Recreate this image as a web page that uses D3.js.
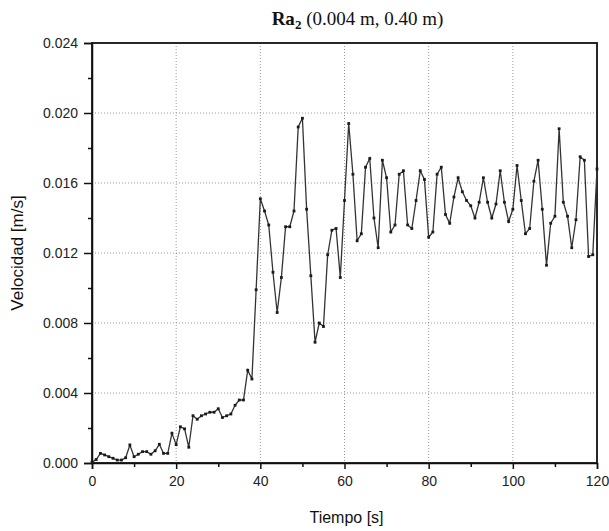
<!DOCTYPE html>
<html>
<head>
<meta charset="utf-8">
<script src="https://cdn.jsdelivr.net/npm/d3@7"></script>
<style>
  body { margin: 0; background: #fff; }
  svg { display: block; }
</style>
</head>
<body>
<div id="chart"></div>
<script>
// velocity readings, one per second (0..120 s)
var tiempo = d3.range(0, 121);
var velocidad = [
  0.00005, 0.0002, 0.00055, 0.00046, 0.00036, 0.00027, 0.00017, 0.00017, 0.0003, 0.00103,
  0.00036, 0.0005, 0.00065, 0.00065, 0.0005, 0.0007, 0.00107, 0.00055, 0.00055, 0.0017,
  0.00105, 0.00207, 0.00195, 0.0009, 0.0027, 0.0025, 0.0027, 0.0028, 0.0029, 0.0029,
  0.0031, 0.0026, 0.0027, 0.0028, 0.0033, 0.0036, 0.0036, 0.0053, 0.0048, 0.0099,
  0.0151, 0.0144, 0.0136, 0.0109, 0.0086, 0.0106, 0.0135, 0.0135, 0.0144, 0.0192,
  0.0197, 0.0145, 0.0107, 0.0069, 0.0080, 0.0078, 0.0119, 0.0133, 0.0134, 0.0106,
  0.0150, 0.0194, 0.0165, 0.0127, 0.0131, 0.0169, 0.0174, 0.0140, 0.0123, 0.0173,
  0.0163, 0.0132, 0.0136, 0.0165, 0.0167, 0.0136, 0.0134, 0.0150, 0.0167, 0.0162,
  0.0129, 0.0132, 0.0165, 0.0169, 0.0142, 0.0137, 0.0152, 0.0163, 0.0155, 0.0150,
  0.0147, 0.0140, 0.0149, 0.0163, 0.0149, 0.0140, 0.0148, 0.0167, 0.0149, 0.0138,
  0.0145, 0.0170, 0.0150, 0.0131, 0.0134, 0.0161, 0.0173, 0.0145, 0.0113, 0.0137,
  0.0141, 0.0191, 0.0149, 0.0141, 0.0123, 0.0139, 0.0175, 0.0173, 0.0118, 0.0119,
  0.0168
];
var xTicks = [0, 20, 40, 60, 80, 100, 120];
var yTicks = [0.000, 0.004, 0.008, 0.012, 0.016, 0.020, 0.024];

var W = 609, H = 531;
var margin = { top: 43, right: 12, bottom: 68, left: 92 };
var width = W - margin.left - margin.right;
var height = H - margin.top - margin.bottom;

var svg = d3.select("#chart").append("svg")
    .attr("width", W)
    .attr("height", H);

var g = svg.append("g")
    .attr("transform", "translate(" + margin.left + "," + margin.top + ")");

var x = d3.scaleLinear().domain([0, 120]).range([0, width]);
var y = d3.scaleLinear().domain([0, 0.024]).range([height, 0]);

// dotted grid
g.append("g").selectAll("line")
    .data(xTicks.slice(1, -1))
    .enter().append("line")
    .attr("x1", function (d) { return x(d); })
    .attr("x2", function (d) { return x(d); })
    .attr("y1", 0).attr("y2", height)
    .style("stroke", "#9a9a9a")
    .style("stroke-width", 1)
    .style("stroke-dasharray", "1,2");
g.append("g").selectAll("line")
    .data(yTicks.slice(1, -1))
    .enter().append("line")
    .attr("y1", function (d) { return y(d); })
    .attr("y2", function (d) { return y(d); })
    .attr("x1", 0).attr("x2", width)
    .style("stroke", "#9a9a9a")
    .style("stroke-width", 1)
    .style("stroke-dasharray", "1,2");

// axes (minor ticks then major)
var font = "'Liberation Sans', Arial, sans-serif";
g.append("g")
    .attr("transform", "translate(0," + height + ")")
    .call(d3.axisBottom(x).tickValues(d3.range(10, 120, 20)).tickSize(4).tickFormat(""))
    .call(function (a) { a.select(".domain").remove(); });
var xAxis = g.append("g")
    .attr("transform", "translate(0," + height + ")")
    .call(d3.axisBottom(x).tickValues(xTicks).tickSize(6).tickPadding(7).tickFormat(d3.format("d")));
xAxis.selectAll("text").style("font-family", font).style("font-size", "14px").style("fill", "#222");

g.append("g")
    .call(d3.axisLeft(y).tickValues(d3.range(0.002, 0.024, 0.004)).tickSize(4).tickFormat(""))
    .call(function (a) { a.select(".domain").remove(); });
var yAxis = g.append("g")
    .call(d3.axisLeft(y).tickValues(yTicks).tickSize(8).tickPadding(6).tickFormat(d3.format(".3f")));
yAxis.selectAll("text").style("font-family", font).style("font-size", "14px").style("fill", "#222");

svg.selectAll(".tick line").style("stroke", "#111").style("stroke-width", 1.5);
svg.selectAll(".domain").style("stroke", "#111").style("stroke-width", 1.5);

// frame
g.append("rect")
    .attr("width", width).attr("height", height)
    .style("fill", "none")
    .style("stroke", "#111")
    .style("stroke-width", 1.8);

// data line + markers
var pts = tiempo.map(function (t, i) { return [t, velocidad[i]]; });
var line = d3.line()
    .x(function (d) { return x(d[0]); })
    .y(function (d) { return y(d[1]); });
g.append("path")
    .datum(pts)
    .attr("d", line)
    .style("fill", "none")
    .style("stroke", "#333")
    .style("stroke-width", 1.3);
g.append("g").selectAll("rect")
    .data(pts)
    .enter().append("rect")
    .attr("x", function (d) { return x(d[0]) - 1.4; })
    .attr("y", function (d) { return y(d[1]) - 1.4; })
    .attr("width", 2.8).attr("height", 2.8)
    .style("fill", "#1a1a1a");

// title
var title = svg.append("text")
    .attr("x", margin.left + width / 2 + 13)
    .attr("y", 25)
    .attr("text-anchor", "middle")
    .style("font-family", "'Liberation Serif', 'Times New Roman', serif")
    .style("font-size", "19px")
    .style("fill", "#111");
title.append("tspan").style("font-weight", "bold").text("Ra");
title.append("tspan").style("font-weight", "bold").style("font-size", "13px").attr("dy", 4).text("2");
title.append("tspan").attr("dy", -4).text(" (0.004 m, 0.40 m)");

// axis titles
svg.append("text")
    .attr("x", margin.left + width / 2 + 2)
    .attr("y", 523)
    .attr("text-anchor", "middle")
    .style("font-family", font)
    .style("font-size", "16px")
    .style("fill", "#111")
    .text("Tiempo [s]");
svg.append("text")
    .attr("transform", "translate(23," + (margin.top + height / 2) + ") rotate(-90)")
    .attr("text-anchor", "middle")
    .style("font-family", font)
    .style("font-size", "17px")
    .style("fill", "#111")
    .text("Velocidad [m/s]");
</script>
</body>
</html>
